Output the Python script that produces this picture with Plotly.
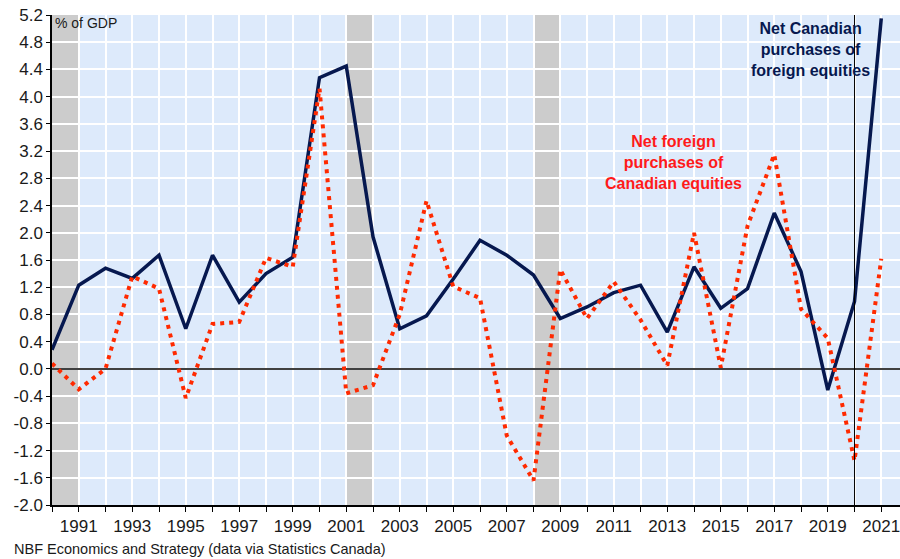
import plotly.graph_objects as go

years = list(range(1990, 2022))
net_canadian_foreign = [0.28, 1.23, 1.48, 1.33, 1.67, 0.59, 1.67, 0.98, 1.40, 1.64,
                        4.28, 4.45, 1.94, 0.59, 0.78, 1.32, 1.89, 1.67, 1.38, 0.74,
                        0.91, 1.12, 1.23, 0.54, 1.50, 0.89, 1.18, 2.29, 1.43, -0.31,
                        0.99, 5.15]
net_foreign_canadian = [0.08, -0.30, 0.00, 1.36, 1.18, -0.43, 0.66, 0.69, 1.63, 1.50,
                        4.12, -0.36, -0.24, 0.80, 2.47, 1.21, 1.04, -0.98, -1.64, 1.46,
                        0.74, 1.28, 0.72, 0.05, 2.00, 0.02, 2.10, 3.15, 0.88, 0.45,
                        -1.35, 1.62]
recessions = [(1990, 1991), (2001, 2002), (2008, 2009)]
marker_year = 2020
y_ticks = [round(-2.0 + 0.4 * i, 1) for i in range(19)]
y_ticktext = [f"{v:.1f}" for v in y_ticks]
x_label_years = list(range(1991, 2022, 2))

FONT = "Liberation Sans, Arial, sans-serif"
NAVY = "#06184F"
RED = "#FF2A00"

W, H = 900, 559
L, R, T, B = 52, 0, 15, 54
PW, PH = W - L - R, H - T - B


def px(xp):
    return (xp - L) / PW


def py(yp):
    return (H - B - yp) / PH


fig = go.Figure()
fig.add_trace(go.Scatter(x=years, y=net_canadian_foreign, mode="lines",
                         line=dict(color=NAVY, width=3.5), showlegend=False))
fig.add_trace(go.Scatter(x=years, y=net_foreign_canadian, mode="lines",
                         line=dict(color=RED, width=4, dash="4px,5px"), showlegend=False))

for a, b in recessions:
    fig.add_shape(type="rect", xref="x", yref="paper", x0=a, x1=b, y0=0, y1=1,
                  fillcolor="#CCCCCC", line=dict(width=0), layer="below")
fig.add_shape(type="line", xref="x", yref="paper", x0=marker_year, x1=marker_year,
              y0=0, y1=1, line=dict(color="black", width=1))

fig.add_annotation(text="<b>Net Canadian<br>purchases of<br>foreign equities</b>",
                   xref="paper", yref="paper", x=px(810), y=py(50), showarrow=False,
                   xanchor="center", yanchor="middle",
                   font=dict(family=FONT, size=16, color=NAVY), align="center")
fig.add_annotation(text="<b>Net foreign<br>purchases of<br>Canadian equities</b>",
                   xref="paper", yref="paper", x=px(673), y=py(163), showarrow=False,
                   xanchor="center", yanchor="middle",
                   font=dict(family=FONT, size=16, color="#FF1A1A"), align="center")
fig.add_annotation(text="% of GDP", xref="paper", yref="paper", x=px(53), y=py(23),
                   xanchor="left", yanchor="middle", showarrow=False,
                   font=dict(family=FONT, size=14, color="#1a1a1a"))
fig.add_annotation(text="NBF Economics and Strategy (data via Statistics Canada)", xref="paper",
                   yref="paper", x=px(12), y=py(549), xanchor="left",
                   yanchor="middle", showarrow=False, font=dict(family=FONT, size=14.5, color="#1a1a1a"))

fig.update_layout(
    width=W, height=H,
    margin=dict(l=L, r=R, t=T, b=B),
    paper_bgcolor="white", plot_bgcolor="#DDEAFB",
    font=dict(family=FONT, size=17, color="#1a1a1a"),
    xaxis=dict(range=[1990, 2021.7], tickmode="array", tickvals=x_label_years,
               ticktext=[str(y) for y in x_label_years], ticks="outside", ticklen=5,
               tickcolor="black", showline=True, linecolor="black", linewidth=1.5,
               showgrid=True, gridcolor="white", gridwidth=2, zeroline=False,
               ticklabeloverflow="allow",
               minor=dict(dtick=1, tick0=1990, ticks="outside", ticklen=5, tickcolor="black",
                          showgrid=True, gridcolor="white", gridwidth=2),
               tickfont=dict(size=17)),
    yaxis=dict(range=[-2.0, 5.2], tickmode="array", tickvals=y_ticks, ticktext=y_ticktext,
               ticks="outside", ticklen=4, tickcolor="black", showline=True, linecolor="black",
               linewidth=1.5, showgrid=True, gridcolor="white", gridwidth=2,
               zeroline=True, zerolinecolor="#404040", zerolinewidth=2,
               tickfont=dict(size=17)),
)

fig.write_html("out.html", config={"displayModeBar": False},
               post_script="document.body.style.margin='0';document.body.style.overflow='hidden';")
